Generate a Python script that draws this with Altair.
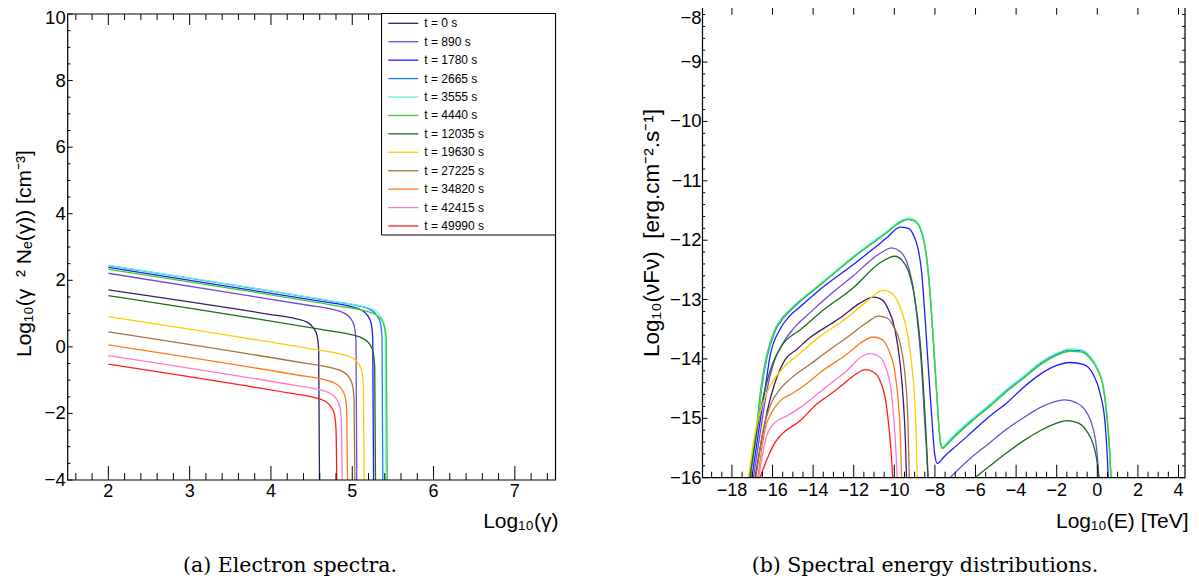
import altair as alt
import numpy as np
import pandas as pd

# ---------------- data ----------------
SERIES = ["t = 0 s", "t = 890 s", "t = 1780 s", "t = 2665 s", "t = 3555 s", "t = 4440 s",
          "t = 12035 s", "t = 19630 s", "t = 27225 s", "t = 34820 s", "t = 42415 s", "t = 49990 s"]
COLORS = ["#3b1c6b", "#7549d9", "#1c1cff", "#1a7dff", "#5ff7d8", "#3ccf2c",
          "#1d6b1d", "#ffcc00", "#a7743d", "#ff7b1f", "#ff78cc", "#ff1c1c"]

# (a) electron spectra: (log10 gamma, log10 gamma^2 N)
ELEC_T0 = [(2.0, 1.71), (4.0, 0.97), (4.3, 0.85), (4.45, 0.735), (4.52, 0.577), (4.567, 0.34), (4.587, -0.10), (4.597, -4.0)]
ELEC_T890 = [(2.0, 2.21), (4.456, 1.25), (4.756, 1.125), (4.906, 1.007), (4.981, 0.847), (5.026, 0.61), (5.046, 0.17), (5.056, -4.0)]
ELEC_T1780 = [(2.0, 2.39), (4.662, 1.35), (4.962, 1.225), (5.112, 1.106), (5.187, 0.947), (5.232, 0.71), (5.252, 0.27), (5.262, -4.0)]
ELEC_T2665 = [(2.0, 2.44), (4.776, 1.357), (5.076, 1.23), (5.226, 1.112), (5.301, 0.953), (5.346, 0.715), (5.366, 0.277), (5.376, -4.0)]
ELEC_T3555 = [(2.0, 2.45), (4.817, 1.351), (5.117, 1.224), (5.267, 1.106), (5.342, 0.947), (5.387, 0.709), (5.407, 0.271), (5.417, -4.0)]
ELEC_T4440 = [(2.0, 2.33), (4.83, 1.226), (5.13, 1.099), (5.28, 0.981), (5.355, 0.822), (5.40, 0.584), (5.42, 0.146), (5.43, -4.0)]
ELEC_T12035 = [(2.0, 1.54), (4.686, 0.492), (4.986, 0.365), (5.136, 0.247), (5.211, 0.088), (5.256, -0.15), (5.276, -0.588), (5.286, -4.0)]
ELEC_T19630 = [(2.0, 0.91), (4.547, -0.083), (4.847, -0.21), (4.997, -0.329), (5.072, -0.488), (5.117, -0.726), (5.137, -1.163), (5.147, -4.0)]
ELEC_T27225 = [(2.0, 0.45), (4.432, -0.498), (4.732, -0.625), (4.882, -0.744), (4.957, -0.903), (5.002, -1.141), (5.022, -1.579), (5.032, -4.0)]
ELEC_T34820 = [(2.0, 0.06), (4.342, -0.853), (4.642, -0.98), (4.792, -1.099), (4.867, -1.258), (4.912, -1.496), (4.932, -1.933), (4.942, -4.0)]
ELEC_T42415 = [(2.0, -0.26), (4.276, -1.148), (4.576, -1.275), (4.726, -1.393), (4.801, -1.552), (4.846, -1.79), (4.866, -2.228), (4.876, -4.0)]
ELEC_T49990 = [(2.0, -0.52), (4.21, -1.382), (4.51, -1.509), (4.66, -1.627), (4.735, -1.787), (4.78, -2.024), (4.80, -2.462), (4.81, -4.0)]

# (b) spectral energy distributions: (log10 E [TeV], log10 nuFnu), list of visible pieces
SED_T0 = [[(-16.86, -16.0), (-16.53, -15.35), (-16.20, -14.79), (-15.88, -14.40), (-15.38, -14.01), (-14.81, -13.84),
           (-14.15, -13.64), (-13.17, -13.42), (-12.68, -13.31), (-11.69, -13.06), (-11.03, -12.96), (-10.62, -13.00),
           (-10.29, -13.17), (-9.97, -13.50), (-9.72, -14.06), (-9.55, -14.74), (-9.45, -15.41), (-9.40, -16.0)]]
SED_T890 = [[(-16.94, -16.0), (-16.53, -15.07), (-16.29, -14.55), (-15.96, -14.08), (-15.46, -13.72), (-14.97, -13.49),
             (-14.15, -13.22), (-13.17, -12.92), (-12.02, -12.60), (-10.70, -12.22), (-10.13, -12.13), (-9.72, -12.19),
             (-9.39, -12.36), (-9.06, -12.83), (-8.82, -13.50), (-8.65, -14.18), (-8.52, -14.96), (-8.40, -15.63), (-8.35, -16.0)],
            [(-7.26, -16.0), (-6.11, -15.63), (-5.29, -15.41), (-4.46, -15.18), (-3.64, -14.99), (-2.82, -14.82), (-2.00, -14.71),
             (-1.59, -14.69), (-1.02, -14.74), (-0.53, -14.90), (-0.20, -15.18), (-0.03, -15.52), (0.08, -16.0)]]
SED_T1780 = [[(-17.02, -16.0), (-16.62, -15.07), (-16.37, -14.51), (-16.12, -13.95), (-15.63, -13.50), (-15.14, -13.27),
              (-14.64, -13.12), (-13.66, -12.83), (-12.02, -12.41), (-10.37, -11.96), (-9.72, -11.78), (-9.31, -11.80),
              (-9.06, -11.91), (-8.82, -12.16), (-8.65, -12.55), (-8.49, -13.28), (-8.33, -14.12), (-8.16, -14.96),
              (-8.00, -15.63), (-7.88, -15.76), (-7.75, -15.73), (-7.58, -15.66), (-6.93, -15.46), (-6.11, -15.21),
              (-5.29, -14.96), (-4.46, -14.74), (-3.64, -14.48), (-2.82, -14.26), (-2.00, -14.11), (-1.34, -14.06),
              (-0.69, -14.09), (-0.20, -14.26), (0.13, -14.57), (0.38, -15.07), (0.49, -15.63), (0.54, -16.0)]]
SED_T2665 = [[(-17.12, -16.0), (-16.73, -15.08), (-16.55, -14.53), (-16.27, -13.97), (-15.86, -13.52), (-15.44, -13.30),
              (-15.04, -13.16), (-13.50, -12.71), (-12.02, -12.29), (-10.37, -11.87), (-9.72, -11.70), (-9.31, -11.65),
              (-8.98, -11.68), (-8.74, -11.79), (-8.58, -11.96), (-8.41, -12.29), (-8.25, -12.85), (-8.08, -13.69),
              (-7.92, -14.53), (-7.79, -15.20), (-7.70, -15.46), (-7.62, -15.50), (-7.45, -15.44), (-6.93, -15.26),
              (-6.11, -15.01), (-5.29, -14.78), (-4.46, -14.53), (-3.64, -14.31), (-2.82, -14.08), (-2.00, -13.92),
              (-1.34, -13.85), (-0.85, -13.86), (-0.36, -13.97), (-0.03, -14.14), (0.30, -14.48), (0.46, -14.92),
              (0.59, -15.48), (0.67, -16.0)]]
SED_T3555 = [[(-17.14, -16.0), (-16.75, -15.07), (-16.57, -14.51), (-16.29, -13.95), (-15.88, -13.50), (-15.46, -13.28),
              (-15.06, -13.14), (-13.50, -12.69), (-12.02, -12.27), (-10.37, -11.85), (-9.72, -11.68), (-9.31, -11.63),
              (-8.98, -11.66), (-8.74, -11.77), (-8.58, -11.94), (-8.41, -12.27), (-8.25, -12.83), (-8.08, -13.67),
              (-7.92, -14.51), (-7.79, -15.18), (-7.70, -15.44), (-7.62, -15.48), (-7.45, -15.42), (-6.93, -15.24),
              (-6.11, -14.99), (-5.29, -14.76), (-4.46, -14.51), (-3.64, -14.29), (-2.82, -14.06), (-2.00, -13.90),
              (-1.34, -13.83), (-0.85, -13.84), (-0.36, -13.95), (-0.03, -14.12), (0.30, -14.46), (0.46, -14.90),
              (0.59, -15.46), (0.67, -16.0)]]
SED_T4440 = [[(-17.16, -16.0), (-16.77, -15.09), (-16.59, -14.53), (-16.31, -13.97), (-15.90, -13.52), (-15.48, -13.30),
              (-15.08, -13.16), (-13.50, -12.71), (-12.02, -12.29), (-10.37, -11.87), (-9.72, -11.70), (-9.31, -11.65),
              (-8.98, -11.68), (-8.74, -11.79), (-8.58, -11.96), (-8.41, -12.29), (-8.25, -12.85), (-8.08, -13.69),
              (-7.92, -14.53), (-7.79, -15.20), (-7.70, -15.47), (-7.62, -15.51), (-7.45, -15.46), (-6.93, -15.28),
              (-6.11, -15.03), (-5.29, -14.80), (-4.46, -14.55), (-3.64, -14.33), (-2.82, -14.10), (-2.00, -13.94),
              (-1.34, -13.87), (-0.85, -13.88), (-0.36, -13.99), (-0.03, -14.16), (0.30, -14.50), (0.46, -14.93),
              (0.60, -15.48), (0.68, -16.0)]]
SED_T12035 = [[(-17.11, -16.0), (-16.70, -15.07), (-16.37, -14.51), (-16.04, -14.12), (-15.55, -13.78), (-14.60, -13.50),
               (-13.66, -13.22), (-12.02, -12.80), (-10.70, -12.38), (-9.97, -12.27), (-9.64, -12.33), (-9.31, -12.52),
               (-8.98, -13.00), (-8.74, -13.67), (-8.58, -14.40), (-8.45, -15.18), (-8.33, -16.0)],
              [(-6.02, -16.0), (-5.29, -15.80), (-4.46, -15.58), (-3.64, -15.38), (-2.82, -15.21), (-2.00, -15.08),
               (-1.51, -15.04), (-1.02, -15.07), (-0.53, -15.21), (-0.20, -15.44), (-0.03, -15.69), (0.08, -16.0)]]
SED_T19630 = [[(-17.19, -16.0), (-16.86, -15.25), (-16.53, -14.80), (-16.12, -14.45), (-15.55, -14.18), (-14.64, -13.90),
               (-13.66, -13.62), (-12.34, -13.31), (-11.36, -13.03), (-10.54, -12.84), (-10.13, -12.89), (-9.80, -13.06),
               (-9.47, -13.39), (-9.23, -13.84), (-9.06, -14.40), (-8.93, -15.18), (-8.87, -16.0)]]
SED_T27225 = [[(-16.82, -16.0), (-16.45, -15.18), (-16.12, -14.79), (-15.63, -14.51), (-15.14, -14.34), (-14.15, -14.09),
               (-13.17, -13.84), (-12.34, -13.64), (-11.36, -13.39), (-10.78, -13.28), (-10.37, -13.31), (-10.04, -13.45),
               (-9.72, -13.73), (-9.47, -14.29), (-9.34, -14.96), (-9.26, -16.0)]]
SED_T34820 = [[(-16.72, -16.0), (-16.37, -15.18), (-16.04, -14.90), (-15.63, -14.71), (-14.97, -14.57), (-14.15, -14.37),
               (-13.66, -14.23), (-12.34, -13.92), (-11.53, -13.70), (-11.06, -13.63), (-10.62, -13.67), (-10.29, -13.84),
               (-9.97, -14.23), (-9.80, -14.74), (-9.70, -15.30), (-9.64, -16.0)]]
SED_T42415 = [[(-16.69, -16.0), (-16.29, -15.30), (-15.88, -15.07), (-15.30, -14.96), (-14.64, -14.82), (-13.82, -14.60),
               (-13.17, -14.42), (-12.34, -14.20), (-11.69, -13.98), (-11.22, -13.91), (-10.78, -13.95), (-10.45, -14.12),
               (-10.17, -14.51), (-10.01, -15.07), (-9.91, -15.63), (-9.86, -16.0)]]
SED_T49990 = [[(-16.62, -16.0), (-16.20, -15.63), (-15.88, -15.41), (-15.55, -15.27), (-14.64, -15.04), (-13.82, -14.76),
               (-13.17, -14.60), (-12.68, -14.47), (-11.86, -14.25), (-11.44, -14.18), (-11.03, -14.22), (-10.70, -14.37),
               (-10.41, -14.74), (-10.24, -15.24), (-10.12, -15.75), (-10.08, -16.0)]]

ELEC = [ELEC_T0, ELEC_T890, ELEC_T1780, ELEC_T2665, ELEC_T3555, ELEC_T4440,
        ELEC_T12035, ELEC_T19630, ELEC_T27225, ELEC_T34820, ELEC_T42415, ELEC_T49990]
SED = [SED_T0, SED_T890, SED_T1780, SED_T2665, SED_T3555, SED_T4440,
       SED_T12035, SED_T19630, SED_T27225, SED_T34820, SED_T42415, SED_T49990]

# tick values / labels
LX_MAJOR = [2, 3, 4, 5, 6, 7]
LY_MAJOR = [-4, -2, 0, 2, 4, 6, 8, 10]
RX_MAJOR = [-18, -16, -14, -12, -10, -8, -6, -4, -2, 0, 2, 4]
RY_MAJOR = [-16, -15, -14, -13, -12, -11, -10, -9, -8]

LX_MINOR = [v for v in np.round(np.arange(1.6, 7.41, 0.2), 2) if abs(v - round(v)) > 1e-6]
LY_MINOR = [v for v in np.round(np.arange(-3.5, 9.6, 0.5), 2) if abs(v / 2 - round(v / 2)) > 1e-6]
RX_MINOR = [v for v in np.round(np.arange(-19.0, 4.01, 0.5), 2) if abs(v / 2 - round(v / 2)) > 1e-6]
RY_MINOR = [v for v in np.round(np.arange(-15.8, -8.1, 0.2), 2) if abs(v - round(v)) > 1e-6]


def fmt(v):
    s = str(int(v))
    return s.replace("-", "\u2212")


# ---------------- layout (pixels inside the view) ----------------
FONT = "Liberation Sans"
LX0, LX1, LY0, LY1 = 1.5, 7.5, -4.0, 10.0
RX0, RX1, RY0, RY1 = -19.45, 4.32, -16.0, -8.0
XL = alt.Scale(domain=[LX0, LX1], range=[59.7, 547.5], nice=False, zero=False)
YL = alt.Scale(domain=[LY0, LY1], range=[472.0, 6.0], nice=False, zero=False)
XR = alt.Scale(domain=[RX0, RX1], range=[694.5, 1177.0], nice=False, zero=False)
YR = alt.Scale(domain=[RY0, RY1], range=[469.7, -5.3], nice=False, zero=False)
PX_XL = 487.8 / 6.0
PX_YL = 466.0 / 14.0
PX_XR = 482.5 / 23.77
PX_YR = 475.0 / 8.0
CS = alt.Scale(domain=SERIES, range=COLORS)


def long_df(curves):
    rows = []
    for name, segs in zip(SERIES, curves):
        for k, seg in enumerate(segs):
            for i, (x, y) in enumerate(seg):
                rows.append({"series": name, "key": f"{name}#{k}", "i": i, "x": x, "y": y})
    return pd.DataFrame(rows)


def hticks(vals, xs, ys, at, d):
    return alt.Chart(pd.DataFrame({"v": vals})).mark_rule(color="black", strokeWidth=1).encode(
        x=alt.X("v:Q", scale=xs, axis=None),
        y=alt.YDatum(at, scale=ys, axis=None, type="quantitative"),
        y2=alt.Y2Datum(at + d),
    )


def vticks(vals, xs, ys, at, d):
    return alt.Chart(pd.DataFrame({"v": vals})).mark_rule(color="black", strokeWidth=1).encode(
        y=alt.Y("v:Q", scale=ys, axis=None),
        x=alt.XDatum(at, scale=xs, axis=None, type="quantitative"),
        x2=alt.X2Datum(at + d),
    )


def frame(xs, ys, x0, x1, y0, y1):
    return alt.Chart(pd.DataFrame({"a": [0]})).mark_rect(
        fill="white", fillOpacity=0, stroke="black", strokeWidth=1.2).encode(
        x=alt.XDatum(x0, scale=xs, axis=None, type="quantitative"), x2=alt.X2Datum(x1),
        y=alt.YDatum(y0, scale=ys, axis=None, type="quantitative"), y2=alt.Y2Datum(y1),
    )


def xlabels(vals, xs, ys, at, dy):
    df = pd.DataFrame({"v": vals, "lab": [fmt(v) for v in vals]})
    return alt.Chart(df).mark_text(font=FONT, fontSize=18, align="center", baseline="middle", dy=dy).encode(
        x=alt.X("v:Q", scale=xs, axis=None),
        y=alt.YDatum(at, scale=ys, axis=None, type="quantitative"),
        text="lab:N",
    )


def ylabels(vals, xs, ys, at, dx, dy=0):
    df = pd.DataFrame({"v": vals, "lab": [fmt(v) for v in vals]})
    return alt.Chart(df).mark_text(font=FONT, fontSize=18.5, align="right", baseline="middle", dx=dx, dy=dy).encode(
        y=alt.Y("v:Q", scale=ys, axis=None),
        x=alt.XDatum(at, scale=xs, axis=None, type="quantitative"),
        text="lab:N",
    )


def curves(df, xs, ys):
    return alt.Chart(df).mark_line(strokeWidth=1.3, interpolate="monotone").encode(
        x=alt.X("x:Q", scale=xs, axis=None),
        y=alt.Y("y:Q", scale=ys, axis=None),
        color=alt.Color("series:N", scale=CS, legend=None),
        detail="key:N",
        order="i:Q",
    )


def txt(t, x, y, **kw):
    return alt.Chart(pd.DataFrame({"t": [t]})).mark_text(**kw).encode(
        x=alt.value(x), y=alt.value(y), text="t:N")


# ---------------- left panel ----------------
left = alt.layer(
    curves(long_df([[c] for c in ELEC]), XL, YL),
    hticks(LX_MAJOR, XL, YL, LY0, 14 / PX_YL),
    hticks(LX_MINOR, XL, YL, LY0, 7 / PX_YL),
    hticks(LX_MAJOR, XL, YL, LY1, -11 / PX_YL),
    hticks(LX_MINOR, XL, YL, LY1, -6 / PX_YL),
    vticks(LY_MAJOR, XL, YL, LX0, 5 / PX_XL),
    vticks(LY_MINOR, XL, YL, LX0, 2.7 / PX_XL),
    frame(XL, YL, LX0, LX1, LY0, LY1),
    xlabels(LX_MAJOR, XL, YL, LY0, 12),
    ylabels(LY_MAJOR[:-1], XL, YL, LX0, -2),
    ylabels(LY_MAJOR[-1:], XL, YL, LX0, -2, dy=4),
)

# ---------------- right panel ----------------
right = alt.layer(
    curves(long_df(SED), XR, YR),
    hticks(RX_MAJOR, XR, YR, RY0, 13 / PX_YR),
    hticks(RX_MINOR, XR, YR, RY0, 6 / PX_YR),
    hticks(RX_MAJOR, XR, YR, RY1, -12 / PX_YR),
    hticks(RX_MINOR, XR, YR, RY1, -5 / PX_YR),
    vticks(RY_MAJOR, XR, YR, RX0, 5 / PX_XR),
    vticks(RY_MINOR, XR, YR, RX0, 2.7 / PX_XR),
    vticks(RY_MAJOR, XR, YR, RX1, -5.5 / PX_XR),
    vticks(RY_MINOR, XR, YR, RX1, -3 / PX_XR),
    frame(XR, YR, RX0, RX1, RY0, RY1),
    xlabels(RX_MAJOR, XR, YR, RY0, 13.3),
    ylabels(RY_MAJOR[:-1], XR, YR, RX0, -1),
    ylabels(RY_MAJOR[-1:], XR, YR, RX0, -1, dy=15),
)

# ---------------- legend ----------------
leg_df = pd.DataFrame({"series": SERIES, "row": list(range(len(SERIES)))})
ROW = alt.Scale(domain=[0, 11], range=[15.3, 218.0], nice=False, zero=False)
legend = alt.layer(
    alt.Chart(pd.DataFrame({"a": [0]})).mark_rect(fill="white", stroke="black", strokeWidth=1).encode(
        x=alt.value(373.5), x2=alt.value(547.5), y=alt.value(5.5), y2=alt.value(227.0)),
    alt.Chart(leg_df).mark_rule(strokeWidth=1.3).encode(
        x=alt.value(380.3), x2=alt.value(410.3),
        y=alt.Y("row:Q", scale=ROW, axis=None),
        color=alt.Color("series:N", scale=CS, legend=None)),
    alt.Chart(leg_df).mark_text(font=FONT, fontSize=12, align="left", baseline="middle").encode(
        x=alt.value(416.3), y=alt.Y("row:Q", scale=ROW, axis=None), text="series:N"),
)

# ---------------- titles and captions ----------------
texts = alt.layer(
    txt("Log\u2081\u2080(\u03b3)", 550.5, 520, font=FONT, fontSize=21, align="right", baseline="alphabetic"),
    txt("Log\u2081\u2080(E) [TeV]", 1180.5, 520, font=FONT, fontSize=21, align="right", baseline="alphabetic"),
    txt("Log\u2081\u2080(\u03b3\u00a0\u00a0\u00b2 N\u2091(\u03b3)) [cm\u207b\u00b3]", 17, 349,
        font=FONT, fontSize=21, align="left", baseline="middle", angle=270),
    txt("Log\u2081\u2080(\u03bdF\u03bd)\u00a0\u00a0[erg.cm\u207b\u00b2.s\u207b\u00b9]", 644, 349,
        font=FONT, fontSize=22.5, align="left", baseline="middle", angle=270),
    txt("(a) Electron spectra.", 282, 558, font="DejaVu Serif", fontSize=20.5, align="center", baseline="middle"),
    txt("(b) Spectral energy distributions.", 917, 558, font="DejaVu Serif", fontSize=20.5, align="center", baseline="middle"),
)

chart = alt.layer(left, right, legend, texts).resolve_scale(
    x="independent", y="independent"
).properties(
    width=1183, height=570, padding=0, autosize=alt.AutoSizeParams(type="none")
).configure_view(stroke=None)

chart.save("out.html", embed_options={"renderer": "svg", "actions": False})
